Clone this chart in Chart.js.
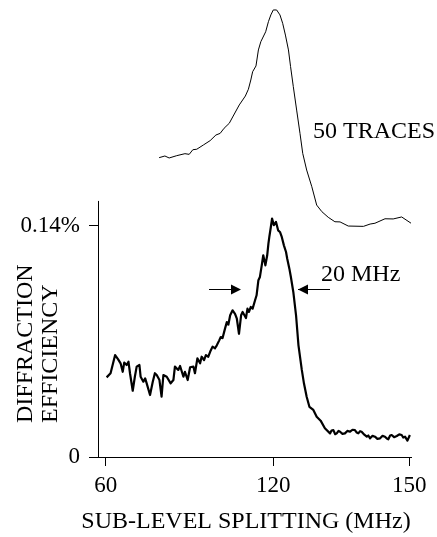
<!DOCTYPE html>
<html>
<head>
<meta charset="utf-8">
<script src="https://cdn.jsdelivr.net/npm/chart.js@4/dist/chart.umd.min.js"></script>
<style>
  body { margin: 0; background: #fff; }
  #wrap { width: 437px; height: 537px; }
</style>
</head>
<body>
<div id="wrap"><canvas id="splitChart"></canvas></div>
<script>
// x = position along the sweep (0 at the 60 MHz tick, 100 at the 150 MHz tick).
// The frequency axis is not linear, so the tick labels get their own positions.
const xTickPos = [0, 55.2, 100];
const xTickLabels = ['60', '120', '150'];
const yTickPos = [0, 0.14];
const yTickLabels = ['0', '0.14%'];
const yAxisTop = 0.155;

// single trace, diffraction efficiency (%)
const singleX = [0.3, 1.6, 3.1, 4.1, 4.9, 5.6, 6.1, 6.9, 7.5, 8.0, 8.9, 9.6, 10.2, 11.1, 11.5, 12.4, 13.0, 13.5,
  14.6, 15.5, 16.2, 16.8, 17.7, 18.4, 19.0, 20.1, 21.4, 22.3, 22.8, 23.9, 24.5, 25.6, 26.1, 27.0, 27.8, 28.9,
  29.4, 30.2, 31.1, 31.6, 32.4, 33.0, 33.8, 34.4, 35.2, 36.0,
  36.6, 37.4, 37.9, 38.5, 39.3, 39.9, 40.4, 41.0, 41.8, 42.6, 43.2, 43.9, 44.6, 45.1, 45.7, 46.2, 46.7, 47.2,
  47.8, 48.4, 49.2, 49.7, 50.3, 50.8, 51.4, 51.9, 52.6, 53.2, 53.6, 53.9, 54.4, 54.8, 55.4, 56.1, 56.8, 57.4,
  58.0, 58.7, 59.4, 59.8, 60.5, 61.0, 61.8, 62.7, 63.5,
  64.6, 65.3, 66.2, 67.1, 68.4, 69.5, 70.8, 72.2,
  73.9, 74.4, 75.0, 75.6, 76.1, 76.7, 77.2, 78.0, 78.8, 79.6, 80.5, 81.3, 82.1, 82.7, 83.2, 83.8, 84.3, 85.2,
  86.0, 86.5, 87.1, 87.9, 88.7, 89.5, 90.4, 91.2, 92.0, 92.6, 93.1, 93.7, 94.2, 95.0, 95.9, 96.7, 97.5, 98.0,
  98.6, 99.4, 100.2];
const singleY = [0.0482, 0.0507, 0.0617, 0.0591, 0.0567, 0.0516, 0.0571, 0.0557, 0.0577, 0.0507, 0.0401, 0.0486,
  0.0547, 0.0557, 0.0486, 0.0456, 0.0476, 0.0446, 0.0375, 0.0456, 0.0507, 0.0496, 0.0466, 0.0365, 0.0496, 0.0486,
  0.0446, 0.0466, 0.0547, 0.0527, 0.0551, 0.0486, 0.0516, 0.0466, 0.0543, 0.0547, 0.0507, 0.0597, 0.0567, 0.0607,
  0.0587, 0.0617, 0.0607, 0.0637, 0.0668, 0.0658,
  0.0676, 0.0706, 0.0726, 0.0720, 0.0777, 0.0817, 0.0801, 0.0858, 0.0888, 0.0867, 0.0837, 0.0746, 0.0858, 0.0878,
  0.0858, 0.0841, 0.0898, 0.0878, 0.0908, 0.0898, 0.0949, 0.0979, 0.1070, 0.1090, 0.1160, 0.1221, 0.1160, 0.1221,
  0.1291, 0.1332, 0.1392, 0.1443, 0.1403, 0.1423, 0.1372, 0.1362, 0.1332, 0.1281, 0.1241, 0.1200, 0.1140, 0.1090,
  0.0999, 0.0858, 0.0676,
  0.0527, 0.0446, 0.0365, 0.0304, 0.0285, 0.0244, 0.0220, 0.0174, 0.0143, 0.0160, 0.0163, 0.0138, 0.0143, 0.0158,
  0.0153, 0.0140, 0.0143, 0.0158, 0.0153, 0.0165, 0.0163, 0.0148, 0.0143, 0.0156, 0.0153, 0.0135, 0.0123, 0.0130,
  0.0113, 0.0128, 0.0123, 0.0110, 0.0113, 0.0128, 0.0123, 0.0112, 0.0107, 0.0130, 0.0133, 0.0120, 0.0127, 0.0137,
  0.0133, 0.0118, 0.0123, 0.0099, 0.0133];

// average of 50 traces, drawn offset above the single trace
const avgX = [17.6, 19.5, 20.9, 23.4, 26.1, 27.5, 28.7, 30.0, 32.2, 34.4, 36.3, 37.7, 39.0, 40.7, 42.0, 44.0,
  46.0, 47.0, 47.8, 48.4, 49.5, 50.3, 51.1, 52.7, 53.6, 54.4, 55.2, 56.3, 57.4, 58.3, 59.2, 60.2, 60.9, 61.8,
  62.9, 64.0, 64.9, 66.2, 67.9, 69.5, 71.2, 73.3, 75.5, 77.2, 79.9, 84.9, 87.1, 88.7, 92.0, 94.7, 97.5, 100.6];
const avgY = [0.1812, 0.1822, 0.1810, 0.1824, 0.1836, 0.1832, 0.1860, 0.1863, 0.1889, 0.1915, 0.1949, 0.1959,
  0.1990, 0.2020, 0.2064, 0.2131, 0.2185, 0.2226, 0.2282, 0.2332, 0.2367, 0.2464, 0.2514, 0.2574, 0.2635, 0.2676,
  0.2706, 0.2706, 0.2676, 0.2625, 0.2554, 0.2464, 0.2363, 0.2242, 0.2100, 0.1959, 0.1838, 0.1737, 0.1636, 0.1525,
  0.1485, 0.1451, 0.1424, 0.1423, 0.1398, 0.1396, 0.1410, 0.1415, 0.1442, 0.1441, 0.1453, 0.1415];

const serif = 'Liberation Serif';

// axis line that stops part way up, plus the labels and the width arrows
const extras = {
    id: 'extras',
    afterDraw(chart) {
        const ctx = chart.ctx;
        const x = chart.scales.x;
        const y = chart.scales.y;
        ctx.save();
        ctx.strokeStyle = '#000';
        ctx.fillStyle = '#000';
        ctx.lineWidth = 1;
        ctx.beginPath();
        ctx.moveTo(x.left + 0.5, y.getPixelForValue(0));
        ctx.lineTo(x.left + 0.5, y.getPixelForValue(yAxisTop));
        ctx.stroke();

        ctx.font = '24px "' + serif + '"';
        ctx.textBaseline = 'alphabetic';
        ctx.textAlign = 'left';
        ctx.fillText('50 TRACES', 313, 138);
        ctx.fillText('20 MHz', 321, 281);
        ctx.textAlign = 'center';
        ctx.fillText('SUB-LEVEL SPLITTING (MHz)', 246, 528);

        ctx.textAlign = 'left';
        ctx.translate(32, 423);
        ctx.rotate(-Math.PI / 2);
        ctx.fillText('DIFFRACTION', 0, 0);
        ctx.fillText('EFFICIENCY', 0, 25);
        ctx.setTransform(1, 0, 0, 1, 0, 0);

        // arrows
        const ay = 289.5;
        ctx.beginPath();
        ctx.moveTo(209, ay); ctx.lineTo(232, ay);
        ctx.moveTo(298, ay); ctx.lineTo(330, ay);
        ctx.stroke();
        ctx.beginPath();
        ctx.moveTo(241, ay); ctx.lineTo(231, ay - 5); ctx.lineTo(231, ay + 5); ctx.closePath();
        ctx.moveTo(298, ay); ctx.lineTo(308, ay - 5); ctx.lineTo(308, ay + 5); ctx.closePath();
        ctx.fill();
        ctx.restore();
    }
};

const ctx = document.getElementById('splitChart').getContext('2d');
new Chart(ctx, {
    type: 'line',
    data: {
        datasets: [{
            label: 'Single trace',
            data: singleX.map((v, i) => ({x: v, y: singleY[i]})),
            borderColor: '#000',
            borderWidth: 2.2,
            pointRadius: 0,
            tension: 0,
            borderJoinStyle: 'round'
        }, {
            label: '50 traces',
            data: avgX.map((v, i) => ({x: v, y: avgY[i]})),
            borderColor: '#000',
            borderWidth: 1,
            pointRadius: 0,
            tension: 0
        }]
    },
    options: {
        responsive: true,
        maintainAspectRatio: false,
        animation: false,
        layout: {
            padding: {top: 5, right: 26, left: 0, bottom: 0}
        },
        plugins: {
            legend: {display: false},
            tooltip: {enabled: false}
        },
        scales: {
            x: {
                type: 'linear',
                min: -2.54,
                max: 100.57,
                border: {display: true, color: '#000', width: 1},
                grid: {drawOnChartArea: false, drawTicks: true, tickLength: 9, color: '#000'},
                afterBuildTicks: function(scale) {
                    scale.ticks = xTickPos.map(v => ({value: v}));
                },
                afterFit: function(scale) {
                    scale.height = 80;
                    scale.paddingLeft = 0;
                    scale.paddingRight = 0;
                },
                ticks: {
                    color: '#000',
                    padding: 6,
                    maxRotation: 0,
                    font: {family: serif, size: 23},
                    callback: function(value, index) {
                        return xTickLabels[index];
                    }
                }
            },
            y: {
                min: 0,
                max: 0.2736,
                border: {display: false},
                grid: {drawOnChartArea: false, drawTicks: true, tickLength: 9, color: '#000'},
                afterBuildTicks: function(scale) {
                    scale.ticks = yTickPos.map(v => ({value: v}));
                },
                afterFit: function(scale) {
                    scale.width = 98;
                    scale.paddingTop = 0;
                    scale.paddingBottom = 0;
                },
                ticks: {
                    color: '#000',
                    padding: 9,
                    font: {family: serif, size: 23},
                    callback: function(value, index) {
                        return yTickLabels[index];
                    }
                }
            }
        }
    },
    plugins: [extras]
});
</script>
</body>
</html>
